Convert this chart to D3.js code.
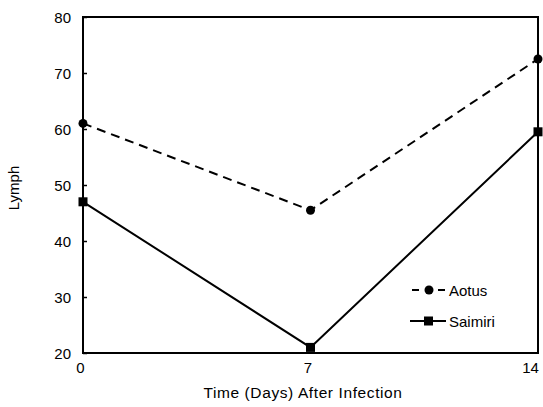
<!DOCTYPE html>
<html><head><meta charset="utf-8">
<script src="https://cdn.jsdelivr.net/npm/d3@7"></script>
<style>body{margin:0;background:#fff}svg{display:block}text{font-family:"Liberation Sans",Arial,sans-serif;fill:#000}</style>
</head><body>
<svg id="c" width="543" height="407"></svg>
<script>
const days = [0, 7, 14];
const aotus = [61, 45.5, 72.5];
const saimiri = [47, 21, 59.5];
const yTicks = [20, 30, 40, 50, 60, 70, 80];
const xTicks = [0, 7, 14];

const svg = d3.select("#c");
const m = {l: 83, r: 538, t: 17, b: 353};
const x = d3.scaleLinear().domain([0, 14]).range([m.l, m.r]);
const y = d3.scaleLinear().domain([20, 80]).range([m.b, m.t]);

svg.append("rect").attr("x", m.l).attr("y", m.t).attr("width", m.r - m.l).attr("height", m.b - m.t)
  .attr("fill", "none").attr("stroke", "#000").attr("stroke-width", 2);

const ya = svg.append("g").attr("transform", `translate(${m.l},0)`)
  .call(d3.axisLeft(y).tickValues(yTicks).tickSize(-4).tickPadding(12).tickFormat(d3.format("d")));
ya.select(".domain").remove();
ya.selectAll("line").attr("stroke", "#000").attr("stroke-width", 1.5);
ya.selectAll("text").attr("font-size", 15).attr("dy", "0.35em").attr("x", -12);

const xa = svg.append("g").attr("transform", `translate(0,${m.b})`)
  .call(d3.axisBottom(x).tickValues(xTicks).tickSize(0).tickPadding(9).tickFormat(d3.format("d")));
xa.select(".domain").remove();
xa.selectAll("text").attr("font-size", 15)
  .attr("dx", d => d === 0 ? -3 : (d === 14 ? -8 : -3));

svg.append("text").attr("transform", `translate(19,188) rotate(-90)`)
  .attr("text-anchor", "middle").attr("font-size", 15).text("Lymph");
svg.append("text").attr("x", 303).attr("y", 398)
  .attr("text-anchor", "middle").attr("font-size", 15.5).attr("letter-spacing", 0.6)
  .text("Time (Days) After Infection");

const line = d3.line().x((d, i) => x(days[i])).y(d => y(d));
svg.append("path").datum(aotus).attr("d", line).attr("fill", "none").attr("stroke", "#000")
  .attr("stroke-width", 2).attr("stroke-dasharray", "9,6");
svg.append("path").datum(saimiri).attr("d", line).attr("fill", "none").attr("stroke", "#000")
  .attr("stroke-width", 2);

svg.selectAll(".pa").data(aotus).enter().append("circle")
  .attr("cx", (d, i) => x(days[i])).attr("cy", d => y(d)).attr("r", 4.5).attr("fill", "#000");
svg.selectAll(".ps").data(saimiri).enter().append("rect")
  .attr("x", (d, i) => x(days[i]) - 4.5).attr("y", d => y(d) - 4.5).attr("width", 9).attr("height", 9).attr("fill", "#000");

// legend
const lg = svg.append("g");
lg.append("line").attr("x1", 412).attr("x2", 446).attr("y1", 290).attr("y2", 290)
  .attr("stroke", "#000").attr("stroke-width", 2).attr("stroke-dasharray", "7,6");
lg.append("circle").attr("cx", 429).attr("cy", 290).attr("r", 4.5).attr("fill", "#000");
lg.append("text").attr("x", 449).attr("y", 295.5).attr("font-size", 15).text("Aotus");
lg.append("line").attr("x1", 410).attr("x2", 446).attr("y1", 321).attr("y2", 321)
  .attr("stroke", "#000").attr("stroke-width", 2);
lg.append("rect").attr("x", 424).attr("y", 316.5).attr("width", 9).attr("height", 9).attr("fill", "#000");
lg.append("text").attr("x", 449).attr("y", 326.5).attr("font-size", 15).text("Saimiri");
</script>
</body></html>
